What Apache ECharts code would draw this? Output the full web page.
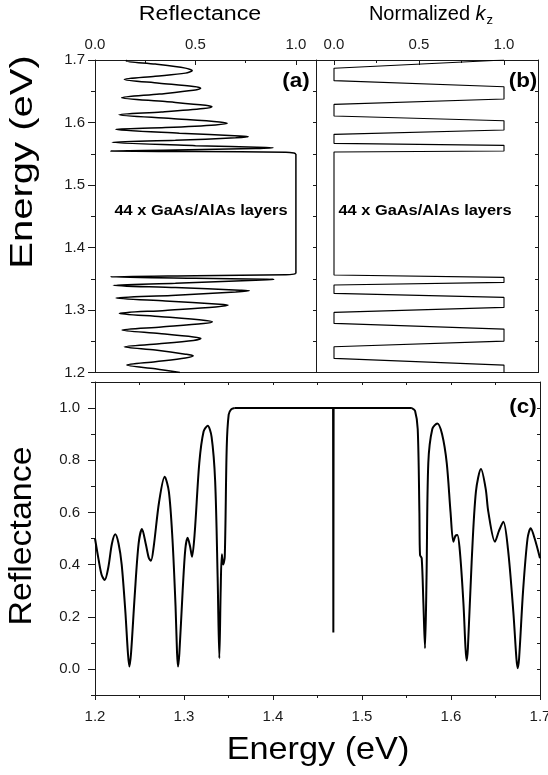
<!DOCTYPE html>
<html>
<head>
<meta charset="utf-8">
<script src="https://cdn.jsdelivr.net/npm/echarts@6/dist/echarts.min.js"></script>
<style>
  html, body { margin: 0; padding: 0; background: #fff; }
  #chart { width: 548px; height: 775px; }
</style>
</head>
<body>
<div id="chart"></div>
<script>
// (a) reflectance vs energy, [R, E] pairs, upper band / stop band / lower band
const reflUpper = [
  [0.160, 1.7000], [0.155, 1.6985], [0.30, 1.6935], [0.45, 1.6870], [0.484, 1.6830], [0.45, 1.6790], [0.30, 1.6740],
  [0.146, 1.6690], [0.32, 1.6630], [0.49, 1.6575], [0.526, 1.6547], [0.49, 1.6515], [0.32, 1.6455],
  [0.133, 1.6397], [0.35, 1.6335], [0.55, 1.6275], [0.582, 1.6253], [0.54, 1.6225], [0.33, 1.6170],
  [0.119, 1.6125], [0.38, 1.6065], [0.62, 1.6010], [0.658, 1.5987], [0.60, 1.5962], [0.35, 1.5920],
  [0.103, 1.5890], [0.42, 1.5830], [0.72, 1.5785], [0.763, 1.5773], [0.70, 1.5755], [0.40, 1.5715],
  [0.086, 1.5683], [0.50, 1.5630], [0.85, 1.5602], [0.887, 1.5597], [0.80, 1.5585], [0.40, 1.5560],
  [0.078, 1.5544], [0.50, 1.5535], [0.95, 1.5525], [0.99, 1.5512], [1.0, 1.5496]
]
const reflStop = [[1.0, 1.5496], [1.0, 1.3587]]
const reflLower = [
  [1.0, 1.3587], [0.99, 1.3575], [0.95, 1.3565], [0.50, 1.3550], [0.078, 1.3533], [0.50, 1.3508], [0.85, 1.3493],
  [0.89, 1.3490], [0.80, 1.3478], [0.40, 1.3430], [0.091, 1.3395], [0.40, 1.3360], [0.72, 1.3318],
  [0.768, 1.3309], [0.70, 1.3290], [0.38, 1.3235], [0.104, 1.3192], [0.35, 1.3145], [0.62, 1.3095],
  [0.663, 1.3080], [0.60, 1.3050], [0.35, 1.2995], [0.121, 1.2947], [0.33, 1.2895], [0.55, 1.2835],
  [0.584, 1.2813], [0.54, 1.2785], [0.33, 1.2730], [0.134, 1.2680], [0.32, 1.2625], [0.49, 1.2570],
  [0.527, 1.2547], [0.49, 1.2515], [0.32, 1.2460], [0.146, 1.2413], [0.30, 1.2360], [0.45, 1.2295],
  [0.489, 1.2269], [0.45, 1.2235], [0.30, 1.2175], [0.158, 1.2120], [0.30, 1.2060], [0.423, 1.2000]
]

// (b) normalized kz vs energy, [kz, E]
const kzBand = [
  [1, 1.7000], [0, 1.6867], [0, 1.6670], [1, 1.6573], [1, 1.6376], [0, 1.6290], [0, 1.6104], [1, 1.6029],
  [1, 1.5880], [0, 1.5811], [0, 1.5667], [1, 1.5635], [1, 1.5544], [0, 1.5528], [0, 1.3560], [1, 1.3523],
  [1, 1.3443], [0, 1.3400], [0, 1.3267], [1, 1.3203], [1, 1.3043], [0, 1.2963], [0, 1.2787], [1, 1.2696],
  [1, 1.2504], [0, 1.2413], [0, 1.2227], [1, 1.2120], [1, 1.2000]
]

// (c) reflectance with cavity, [E, R]
const cavLeft = [
  [1.2000, 0.50], [1.2040, 0.42], [1.2075, 0.36], [1.2109, 0.341], [1.2150, 0.39], [1.2190, 0.48], [1.2228, 0.516],
  [1.2265, 0.48], [1.2300, 0.40], [1.2341, 0.22], [1.2370, 0.06], [1.2386, 0.009], [1.2405, 0.06], [1.2446, 0.28],
  [1.2490, 0.48], [1.2528, 0.536], [1.2570, 0.48], [1.2605, 0.425], [1.2629, 0.415], [1.2660, 0.47], [1.2720, 0.64],
  [1.2783, 0.737], [1.2830, 0.68], [1.2870, 0.50], [1.2905, 0.24], [1.2922, 0.06], [1.2933, 0.009], [1.2948, 0.06],
  [1.2985, 0.30], [1.3015, 0.46], [1.3041, 0.503], [1.3068, 0.47], [1.3090, 0.43], [1.3120, 0.52], [1.3172, 0.79],
  [1.3220, 0.91], [1.3266, 0.932], [1.3310, 0.89], [1.3350, 0.72], [1.3378, 0.35], [1.3397, 0.041], [1.3412, 0.30],
  [1.3425, 0.44], [1.3440, 0.40], [1.3458, 0.43], [1.3480, 0.85], [1.3502, 0.975], [1.3530, 0.995], [1.3570, 1.0]
]
const cavGap = [[1.3570, 1.0], [1.4675, 1.0], [1.4678, 0.14], [1.4681, 1.0], [1.5560, 1.0]]
const cavRight = [
  [1.5560, 1.0], [1.5596, 0.99], [1.5626, 0.92], [1.5645, 0.60], [1.5652, 0.437], [1.5671, 0.424], [1.5690, 0.25],
  [1.5708, 0.079], [1.5725, 0.35], [1.5745, 0.79], [1.5790, 0.92], [1.5846, 0.941], [1.5900, 0.90], [1.5952, 0.79],
  [1.5995, 0.60], [1.6026, 0.488], [1.6050, 0.51], [1.6071, 0.513], [1.6100, 0.45], [1.6140, 0.25], [1.6163, 0.08],
  [1.6176, 0.032], [1.6190, 0.08], [1.6232, 0.41], [1.6280, 0.68], [1.6337, 0.766], [1.6390, 0.69], [1.6419, 0.603],
  [1.6494, 0.488], [1.6540, 0.53], [1.6588, 0.564], [1.6640, 0.46], [1.6700, 0.22], [1.6735, 0.04], [1.6749, 0.003],
  [1.6765, 0.04], [1.6810, 0.30], [1.6860, 0.50], [1.6895, 0.539], [1.6940, 0.50], [1.7000, 0.424]
]

const topTicks = [0, 0.5, 1]
const topMinorTicks = [0.25, 0.75]
const cTicks = [0, 0.2, 0.4, 0.6, 0.8, 1.0]
const cMinorTicks = [-0.1, 0.1, 0.3, 0.5, 0.7, 0.9, 1.1]

const FONT = "'Liberation Sans', Arial, sans-serif"
const INK = '#1a1a1a'

const line = (show = true) => ({ show, onZero: false, lineStyle: { color: INK, width: 1 } })
const fmt = (v) => Number(v).toFixed(1)
const label = (margin, extra) => Object.assign({
  show: true, color: INK, fontSize: 15, fontFamily: FONT, margin, formatter: fmt
}, extra)
const noLabel = { show: false }

const xAxis = [
  // (a)
  { gridIndex: 0, type: 'value', position: 'top', min: 0, max: 1.1, axisLine: line(), splitLine: { show: false },
    axisTick: { inside: true, length: 5, customValues: topTicks, lineStyle: { color: INK } },
    axisLabel: label(8, { customValues: topTicks }) },
  { gridIndex: 0, type: 'value', position: 'top', min: 0, max: 1.1, axisLine: line(false), splitLine: { show: false },
    axisTick: { inside: true, length: 3, customValues: topMinorTicks, lineStyle: { color: INK } }, axisLabel: noLabel },
  { gridIndex: 0, type: 'value', position: 'bottom', min: 0, max: 1.1, axisLine: line(), splitLine: { show: false },
    axisTick: { show: false }, axisLabel: noLabel },
  // (b)
  { gridIndex: 1, type: 'value', position: 'top', min: -0.1, max: 1.2, axisLine: line(), splitLine: { show: false },
    axisTick: { inside: true, length: 5, customValues: topTicks, lineStyle: { color: INK } },
    axisLabel: label(8, { customValues: topTicks }) },
  { gridIndex: 1, type: 'value', position: 'top', min: -0.1, max: 1.2, axisLine: line(false), splitLine: { show: false },
    axisTick: { inside: true, length: 3, customValues: topMinorTicks, lineStyle: { color: INK } }, axisLabel: noLabel },
  { gridIndex: 1, type: 'value', position: 'bottom', min: -0.1, max: 1.2, axisLine: line(), splitLine: { show: false },
    axisTick: { show: false }, axisLabel: noLabel },
  // (c)
  { gridIndex: 2, type: 'value', position: 'bottom', min: 1.2, max: 1.7, interval: 0.1, axisLine: line(),
    splitLine: { show: false },
    axisTick: { length: 5, lineStyle: { color: INK } },
    minorTick: { show: true, splitNumber: 2, length: 3, lineStyle: { color: INK } },
    axisLabel: label(14) },
  { gridIndex: 2, type: 'value', position: 'top', min: 1.2, max: 1.7, interval: 0.05, axisLine: line(),
    splitLine: { show: false },
    axisTick: { inside: true, length: 3, lineStyle: { color: INK } }, axisLabel: noLabel }
]

const yAxis = [
  // (a)
  { gridIndex: 0, type: 'value', position: 'left', min: 1.2, max: 1.7, interval: 0.1, axisLine: line(),
    splitLine: { show: false },
    axisTick: { length: 7, lineStyle: { color: INK } },
    minorTick: { show: true, splitNumber: 2, length: 4, lineStyle: { color: INK } },
    axisLabel: label(10) },
  { gridIndex: 0, type: 'value', position: 'right', min: 1.2, max: 1.7, interval: 0.1, axisLine: line(),
    splitLine: { show: false },
    axisTick: { inside: true, length: 3, lineStyle: { color: INK } },
    minorTick: { show: true, splitNumber: 2, length: 3, lineStyle: { color: INK } },
    axisLabel: noLabel },
  // (b) left border is shared with the right border of (a)
  { gridIndex: 1, type: 'value', position: 'left', min: 1.2, max: 1.7, axisLine: line(false), splitLine: { show: false },
    axisTick: { show: false }, axisLabel: noLabel },
  { gridIndex: 1, type: 'value', position: 'right', min: 1.2, max: 1.7, interval: 0.1, axisLine: line(),
    splitLine: { show: false },
    axisTick: { inside: true, length: 3, lineStyle: { color: INK } },
    minorTick: { show: true, splitNumber: 2, length: 3, lineStyle: { color: INK } },
    axisLabel: noLabel },
  // (c)
  { gridIndex: 2, type: 'value', position: 'left', min: -0.1, max: 1.1, axisLine: line(), splitLine: { show: false },
    axisTick: { length: 7, customValues: cTicks, lineStyle: { color: INK } },
    axisLabel: label(15, { customValues: cTicks }) },
  { gridIndex: 2, type: 'value', position: 'left', min: -0.1, max: 1.1, axisLine: line(false), splitLine: { show: false },
    axisTick: { length: 4, customValues: cMinorTicks, lineStyle: { color: INK } }, axisLabel: noLabel },
  { gridIndex: 2, type: 'value', position: 'right', min: -0.1, max: 1.1, interval: 0.1, axisLine: line(),
    splitLine: { show: false },
    axisTick: { inside: true, length: 3, lineStyle: { color: INK } }, axisLabel: noLabel }
]

const curve = (data, x, y, width, smooth) => ({
  type: 'line', data, xAxisIndex: x, yAxisIndex: y, smooth, showSymbol: false, symbol: 'none',
  lineStyle: { color: '#000', width }, silent: true, clip: true
})

const text = (str, x, y, size, opts = {}) => ({
  type: 'text', x, y, rotation: opts.rotation || 0, scaleX: opts.scaleX || 1, silent: true,
  style: {
    text: str, fill: '#000', fontSize: size, fontFamily: FONT, fontWeight: opts.bold ? 'bold' : 'normal',
    align: 'center', verticalAlign: 'middle', textAlign: 'center', textVerticalAlign: 'middle',
    rich: opts.rich
  }
})

const option = {
  animation: false,
  backgroundColor: '#fff',
  grid: [
    { left: 95, top: 60, width: 221, height: 312.6, outerBoundsMode: 'none' },
    { left: 317, top: 60, width: 221, height: 312.6, outerBoundsMode: 'none' },
    { left: 95, top: 382, width: 445, height: 313, outerBoundsMode: 'none' }
  ],
  xAxis,
  yAxis,
  series: [
    curve(reflUpper, 0, 0, 1.5, 0.3),
    curve(reflStop, 0, 0, 1.5, false),
    curve(reflLower, 0, 0, 1.5, 0.3),
    curve(kzBand, 3, 2, 1.1, false),
    curve(cavLeft, 6, 4, 2, 0.3),
    curve(cavGap, 6, 4, 2, false),
    curve(cavRight, 6, 4, 2, 0.3)
  ],
  graphic: [
    text('Reflectance', 200, 14, 20, { scaleX: 1.16 }),
    text('{n|Normalized }{k|k}{z|z}', 431, 14, 20, {
      rich: {
        n: { fontSize: 20, fontFamily: FONT },
        k: { fontSize: 20, fontFamily: FONT, fontStyle: 'italic' },
        z: { fontSize: 13, fontFamily: FONT, padding: [12, 0, 0, 1] }
      }
    }),
    text('(a)', 296, 81, 20, { bold: true, scaleX: 1.12 }),
    text('(b)', 523, 81, 20, { bold: true, scaleX: 1.12 }),
    text('(c)', 523, 407, 20, { bold: true, scaleX: 1.12 }),
    text('44 x GaAs/AlAs layers', 201, 211, 14, { bold: true, scaleX: 1.17 }),
    text('44 x GaAs/AlAs layers', 425, 211, 14, { bold: true, scaleX: 1.17 }),
    text('Energy (eV)', 23, 162, 32, { rotation: Math.PI / 2, scaleX: 1.25 }),
    text('Reflectance', 22, 536, 32, { rotation: Math.PI / 2, scaleX: 1.06 }),
    text('Energy (eV)', 318, 750, 32, { scaleX: 1.07 })
  ]
}

const chart = echarts.init(document.getElementById('chart'), null, { renderer: 'canvas' })
chart.setOption(option)
</script>
</body>
</html>
